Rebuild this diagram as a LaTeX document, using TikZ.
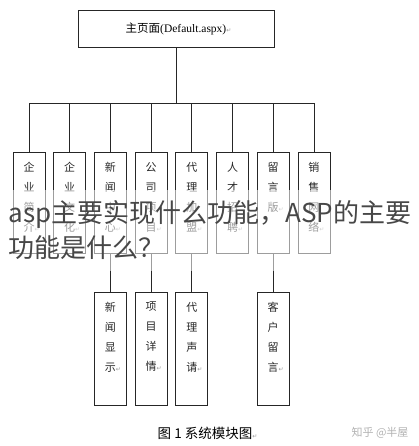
\documentclass[tikz,border=0pt]{standalone}
\usepackage{fontspec}
\setmainfont{Liberation Serif}
\newfontfamily\cjk{Noto Sans CJK SC}
\newfontfamily\markfont{DejaVu Sans}
\usetikzlibrary{calc}
\newcommand{\pmark}{\rlap{\markfont\fontsize{6}{6}\selectfont\color{black!40}↵}}

\begin{document}
\begin{tikzpicture}[x=1pt,y=-1pt,line width=.8pt,
  modbox/.style={draw=black!85,minimum width=32pt,inner sep=0pt},
  vtxt/.style={font=\cjk\fontsize{11}{20}\selectfont,align=center,anchor=north,inner sep=0pt,text=black!85}]
  \useasboundingbox (0,0) rectangle (419,446);
  \node[draw=black!85,minimum width=196pt,minimum height=37pt,font=\fontsize{11.5}{13}\selectfont] (home) at (176,28.5) {{\cjk 主页面}(Default.aspx)\pmark};
  \coordinate (bus) at (174,103);
  % first level
  \node[modbox,minimum height=101pt] (b1) at (29,202.5) {};
  \node[modbox,minimum height=101pt] (b2) at (69.7,202.5) {};
  \node[modbox,minimum height=101pt] (b3) at (110.4,202.5) {};
  \node[modbox,minimum height=101pt] (b4) at (151.1,202.5) {};
  \node[modbox,minimum height=101pt] (b5) at (191.8,202.5) {};
  \node[modbox,minimum height=101pt] (b6) at (232.5,202.5) {};
  \node[modbox,minimum height=101pt] (b7) at (273.2,202.5) {};
  \node[modbox,minimum height=101pt] (b8) at (313.9,202.5) {};
  \node[vtxt] (t1) at ([yshift=-10pt]b1.north) {企\\业\\简\\介\pmark};
  \node[vtxt] (t2) at ([yshift=-10pt]b2.north) {企\\业\\文\\化\pmark};
  \node[vtxt] (t3) at ([yshift=-10pt]b3.north) {新\\闻\\中\\心\pmark};
  \node[vtxt] (t4) at ([yshift=-10pt]b4.north) {公\\司\\项\\目\pmark};
  \node[vtxt] (t5) at ([yshift=-10pt]b5.north) {代\\理\\加\\盟\pmark};
  \node[vtxt] (t6) at ([yshift=-10pt]b6.north) {人\\才\\招\\聘\pmark};
  \node[vtxt] (t7) at ([yshift=-10pt]b7.north) {留\\言\\版\pmark};
  \node[vtxt] (t8) at ([yshift=-10pt]b8.north) {销\\售\\网\\络\pmark};
  % second level
  \node[modbox,minimum height=113pt] (c1) at (110.4,348.5) {};
  \node[modbox,minimum height=113pt] (c2) at (151.1,348.5) {};
  \node[modbox,minimum height=113pt] (c3) at (191.8,348.5) {};
  \node[modbox,minimum height=113pt] (c4) at (273.2,348.5) {};
  \node[vtxt] (u1) at ([yshift=-10pt]c1.north) {新\\闻\\显\\示\pmark};
  \node[vtxt] (u2) at ([yshift=-10pt]c2.north) {项\\目\\详\\情\pmark};
  \node[vtxt] (u3) at ([yshift=-10pt]c3.north) {代\\理\\声\\请\pmark};
  \node[vtxt] (u4) at ([yshift=-10pt]c4.north) {客\\户\\留\\言\pmark};
  \draw[black!85] (home.south) -- (home.south |- bus);
  \draw[black!85] (b1.north |- bus) -- (b8.north |- bus);
  \draw[black!85] (b1.north) -- (b1.north |- bus);
  \draw[black!85] (b2.north) -- (b2.north |- bus);
  \draw[black!85] (b3.north) -- (b3.north |- bus);
  \draw[black!85] (b4.north) -- (b4.north |- bus);
  \draw[black!85] (b5.north) -- (b5.north |- bus);
  \draw[black!85] (b6.north) -- (b6.north |- bus);
  \draw[black!85] (b7.north) -- (b7.north |- bus);
  \draw[black!85] (b8.north) -- (b8.north |- bus);
  \draw[black!85] (b3.south) -- (c1.north);
  \draw[black!85] (b4.south) -- (c2.north);
  \draw[black!85] (b5.south) -- (c3.north);
  \draw[black!85] (b7.south) -- (c4.north);
  \node[font=\cjk\fontsize{13.5}{16}\selectfont] (cap) at (205,433) {图 1 系统模块图\pmark};
  \node[font=\cjk\fontsize{11}{13}\selectfont,text=black!30] (zhihu) at (380,433) {知乎 @半屋};
  % overlaid title
  \fill[white,opacity=.55] (0,190) rectangle (419,271);
  \node[font=\cjk\fontsize{26}{35}\selectfont,text=black!72,anchor=west,align=left,inner sep=0pt] (title) at (8,230.5) {asp主要实现什么功能，ASP的主要\\功能是什么？};
\end{tikzpicture}
\end{document}
